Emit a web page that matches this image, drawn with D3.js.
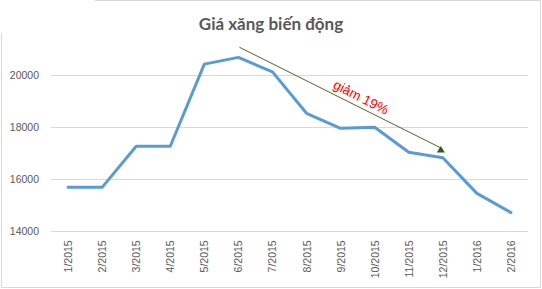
<!DOCTYPE html>
<html lang="vi">
<head>
    <meta charset="UTF-8">
    <title>Giá xăng biến động</title>
    <style>
        body { margin: 0; background: #ffffff; }
        .tick text { font: 10.5px "Liberation Sans", Arial, sans-serif; fill: #595959; }
        .grid line { stroke: #d9d9d9; stroke-width: 1; shape-rendering: crispEdges; }
        .grid path { display: none; }
    </style>
    <script src="https://cdn.jsdelivr.net/npm/d3@7"></script>
</head>
<body>
<div id="chart"></div>
<script>
    // data
    var months = ["1/2015", "2/2015", "3/2015", "4/2015", "5/2015", "6/2015", "7/2015",
        "8/2015", "9/2015", "10/2015", "11/2015", "12/2015", "1/2016", "2/2016"];
    var prices = [15690, 15690, 17270, 17270, 20430, 20690, 20130,
        18540, 17960, 18000, 17040, 16830, 15460, 14720];
    var yTicks = [14000, 16000, 18000, 20000];
    var titleText = "Giá xăng biến động";
    // annotation arrow, in data terms (month, price)
    var arrowFrom = ["6/2015", 21080];
    var arrowTo = ["12/2015", 17130];
    var arrowLabel = "giảm 19%";

    var width = 542, height = 289;
    var margin = {top: 75, right: 14, bottom: 58, left: 51};

    var svg = d3.select("#chart").append("svg")
        .attr("width", width)
        .attr("height", height);

    // outer frame (top left corner is cut off in the original)
    svg.append("path")
        .attr("d", "M95,0.5 H540.5 V287.5 H1.5 V33")
        .attr("fill", "none")
        .attr("stroke", "#d9d9d9")
        .attr("stroke-width", 1);

    var x = d3.scaleBand()
        .domain(months)
        .range([margin.left, width - margin.right]);

    var y = d3.scaleLinear()
        .domain([14000, 21000])
        .range([231.3, 231.3 - 3.5 * 52]);

    // title
    svg.append("text")
        .attr("x", width / 2)
        .attr("y", 30)
        .attr("text-anchor", "middle")
        .style("font", "bold 17px Lato, 'Open Sans', sans-serif")
        .style("fill", "#595959")
        .text(titleText);

    // gridlines + y labels
    svg.append("g")
        .attr("class", "grid")
        .attr("transform", "translate(" + margin.left + ",0)")
        .call(d3.axisLeft(y)
            .tickValues(yTicks)
            .tickSize(-(width - margin.right - margin.left))
            .tickPadding(12)
            .tickFormat(d3.format("d")));

    // x labels, rotated
    var xAxis = svg.append("g")
        .attr("class", "grid")
        .attr("transform", "translate(0," + y(14000) + ")")
        .call(d3.axisBottom(x).tickSize(0).tickPadding(0));
    xAxis.selectAll("line").remove();
    xAxis.selectAll(".tick text")
        .attr("text-anchor", "end")
        .attr("dy", null)
        .attr("transform", "translate(4,9) rotate(-90)");

    // price line
    var line = d3.line()
        .x(function (d, i) { return x(months[i]) + x.bandwidth() / 2; })
        .y(function (d) { return y(d); });

    svg.append("path")
        .datum(prices)
        .attr("fill", "none")
        .attr("stroke", "#5b9bd5")
        .attr("stroke-width", 3)
        .attr("stroke-linejoin", "round")
        .attr("stroke-linecap", "round")
        .attr("d", line);

    // arrow annotation
    var x1 = x(arrowFrom[0]) + x.bandwidth() / 2 + 1, y1 = y(arrowFrom[1]);
    var x2 = x(arrowTo[0]) + x.bandwidth() / 2 - 2, y2 = y(arrowTo[1]);

    svg.append("line")
        .attr("x1", x1).attr("y1", y1)
        .attr("x2", x2).attr("y2", y2 - 2)
        .attr("stroke", "#4f6228")
        .attr("stroke-width", 1);

    svg.append("path")
        .attr("d", "M" + x2 + "," + (y2 - 4) + " L" + (x2 + 4) + "," + (y2 + 2.5) + " L" + (x2 - 4) + "," + (y2 + 2.5) + "Z")
        .attr("fill", "#375623");

    var ang = Math.atan2(y2 - y1, x2 - x1) * 180 / Math.PI;
    var mx = x1 + (x2 - x1) * 0.58, my = y1 + (y2 - y1) * 0.58;
    svg.append("text")
        .attr("transform", "translate(" + mx + "," + my + ") rotate(" + ang + ")")
        .attr("text-anchor", "middle")
        .attr("dy", -6)
        .style("font", "13.5px 'Liberation Sans', Arial, sans-serif")
        .style("fill", "#ff0000")
        .text(arrowLabel);
</script>
</body>
</html>
